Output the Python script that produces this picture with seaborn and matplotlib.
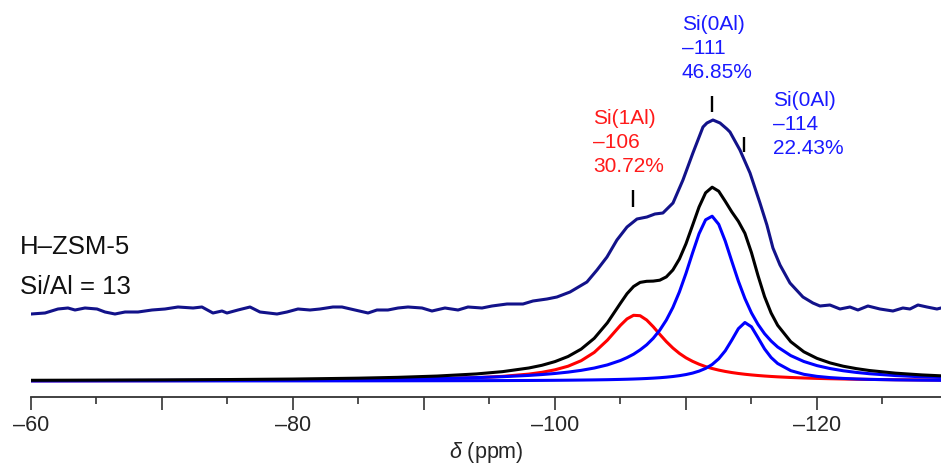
import matplotlib
matplotlib.use("Agg")
import matplotlib.pyplot as plt
from matplotlib.ticker import MultipleLocator, FuncFormatter
import pandas as pd
import seaborn as sns

# ---------------- data ----------------
# chemical shift grid for the fitted curves (ppm)
fit_ppm = [-60, -65, -70, -75, -80, -85, -88, -91, -94, -96, -98, -99, -100, -101,
           -102, -103, -104, -105, -105.5, -106, -106.5, -107, -107.5, -108, -108.5,
           -109, -109.5, -110, -110.5, -111, -111.5, -112, -112.5, -113, -113.5,
           -114, -114.5, -115, -115.5, -116, -116.5, -117, -118, -119, -120, -121,
           -122, -123, -124, -126, -128, -130]

# Si(1Al) component, -106 ppm (red)
si1al_106 = [0.24, 0.30, 0.39, 0.53, 0.74, 1.13, 1.52, 2.16, 3.30, 4.63, 6.89, 8.67, 11.2, 14.8,
             20.3, 28.6, 40.8, 55.7, 62.1, 65.7, 65.3, 61.0, 54.3, 46.7, 39.4,
             33.0, 27.6, 23.2, 19.7, 16.8, 14.4, 12.5, 10.9, 9.57, 8.46,
             7.53, 6.74, 6.07, 5.49, 4.98, 4.54, 4.16, 3.52, 3.01, 2.61, 2.28,
             2.01, 1.79, 1.59, 1.29, 1.07, 0.90]

# Si(0Al) component, -111 ppm (blue)
si0al_111 = [0.41, 0.51, 0.63, 0.82, 1.09, 1.53, 1.93, 2.52, 3.41, 4.30, 5.58, 6.44, 7.53, 8.88,
             10.65, 12.97, 16.1, 20.5, 23.4, 26.8, 31.1, 36.2, 42.7, 50.8, 60.9,
             73.5, 89.1, 107.6, 127.9, 147.3, 161.2, 164.8, 156.7, 139.9, 119.7,
             99.9, 82.5, 68.1, 56.6, 47.3, 40.0, 34.0, 25.4, 19.5, 15.4, 12.45,
             10.25, 8.58, 7.28, 5.43, 4.20, 3.33]

# Si(0Al) component, -114 ppm (blue)
si0al_114 = [0.05, 0.06, 0.08, 0.10, 0.13, 0.17, 0.21, 0.27, 0.35, 0.43, 0.54, 0.61, 0.70, 0.81,
             0.94, 1.10, 1.31, 1.60, 1.77, 1.98, 2.22, 2.51, 2.86, 3.28, 3.82,
             4.49, 5.34, 6.44, 7.89, 9.88, 12.6, 16.5, 22.2, 30.2, 40.9,
             52.3, 58.5, 54.2, 43.3, 32.1, 23.5, 17.5, 10.35, 6.69, 4.64, 3.39,
             2.58, 2.02, 1.63, 1.12, 0.82, 0.62]

# total fitted envelope (black)
fit_total = [0.70, 0.87, 1.10, 1.45, 1.96, 2.83, 3.66, 4.95, 7.06, 9.36, 13.0, 15.7, 19.4, 24.5,
             31.9, 42.7, 58.2, 77.8, 87.3, 94.5, 98.6, 99.7, 99.9, 100.8, 104.1,
             111.0, 122.0, 137.2, 155.5, 174.0, 188.2, 193.8, 189.8, 179.7, 169.1,
             159.7, 147.7, 128.4, 105.4, 84.4, 68.0, 55.7, 39.3, 29.2, 22.65, 18.1,
             14.8, 12.4, 10.5, 7.84, 6.09, 4.85]

# experimental spectrum (navy, shown offset above the fits)
exp_ppm = [-60.0, -61.07, -62.06, -62.82, -63.36, -64.12, -65.04, -65.65, -66.41, -67.18,
           -68.17, -69.24, -70.23, -71.22, -72.37, -73.05, -73.89, -74.58, -74.96, -75.80,
           -76.72, -77.48, -78.78, -79.54, -80.38, -81.30, -82.06, -83.05, -83.74, -84.73,
           -85.73, -86.41, -87.25, -88.02, -88.78, -89.85, -90.61, -91.60, -92.60, -93.36,
           -94.43, -95.19, -96.34, -97.56, -98.32, -99.39, -100.15, -101.15, -102.44, -103.21,
           -103.97, -104.73, -105.50, -106.26, -107.02, -107.63, -108.24, -109.01, -109.77,
           -110.53, -111.30, -111.60, -112.06, -112.60, -113.13, -113.36, -114.12, -114.89,
           -115.65, -116.18, -116.64, -117.18, -117.94, -118.93, -119.69, -120.23, -120.99,
           -121.76, -122.52, -123.13, -123.89, -124.81, -125.80, -126.56, -127.10, -127.71,
           -128.40, -129.16, -129.47]
exp_int = [67, 68, 72, 73, 71, 73, 72, 69, 67, 69,
           69, 71, 72, 74, 73, 74, 68, 70, 68, 71,
           74, 69, 67, 69, 72, 71, 72, 74, 74, 71,
           68, 71, 71, 73, 74, 73, 70, 73, 71, 74,
           73, 75, 77, 77, 80, 82, 84, 89, 99, 111,
           124, 141, 154, 162, 164, 167, 168, 178, 201,
           228, 254, 258, 261, 258, 252, 249, 231, 208,
           178, 156, 133, 116, 98, 84, 78, 75, 76,
           72, 74, 71, 75, 72, 70, 73, 72, 76,
           74, 72, 73]

# annotations
label_lines = [["Si(1Al)", "–106", "30.72%"],
               ["Si(0Al)", "–111", "46.85%"],
               ["Si(0Al)", "–114", "22.43%"]]
label_colors = ["#ff1a1a", "#1a1aff", "#1a1aff"]
label_x = [-102.9, -109.69, -116.64]
label_y = [262, 356, 281]
mark_ppm = [-105.95, -111.98, -114.43]
mark_lo = [174, 269, 229]
mark_hi = [191, 285, 244]
sample_lines = ["H–ZSM-5", "Si/Al = 13"]

# ---------------- plotting ----------------
sns.set_theme(style="white")
plt.rcParams["font.family"] = ["Liberation Sans", "DejaVu Sans"]
plt.rcParams["mathtext.fontset"] = "custom"
plt.rcParams["mathtext.it"] = "Liberation Sans:italic"
plt.rcParams["mathtext.rm"] = "Liberation Sans"

W, H = 941, 465
fig = plt.figure(figsize=(W / 100, H / 100), dpi=100)
ax = fig.add_axes([31 / W, 68 / H, 910 / W, 397 / H])

fits = pd.DataFrame({"ppm": fit_ppm, "red": si1al_106, "b111": si0al_111,
                     "b114": si0al_114, "tot": fit_total})
expdf = pd.DataFrame({"ppm": exp_ppm, "I": exp_int})

lw = 2.2
sns.lineplot(data=fits, x="ppm", y="red", ax=ax, color="#ff0000", lw=lw, sort=False, estimator=None)
sns.lineplot(data=fits, x="ppm", y="b114", ax=ax, color="#0000ff", lw=lw, sort=False, estimator=None)
sns.lineplot(data=fits, x="ppm", y="b111", ax=ax, color="#0000ff", lw=lw, sort=False, estimator=None)
sns.lineplot(data=fits, x="ppm", y="tot", ax=ax, color="#000000", lw=lw, sort=False, estimator=None)
sns.lineplot(data=expdf, x="ppm", y="I", ax=ax, color="#12128a", lw=lw, sort=False, estimator=None)

ax.vlines(mark_ppm, mark_lo, mark_hi, colors="black", lw=1.7)

for lines, col, x0, y0 in zip(label_lines, label_colors, label_x, label_y):
    for k, s in enumerate(lines):
        ax.text(x0, y0 - 24 * k, s, color=col, fontsize=15, ha="left", va="center")

fig.text(20 / W, 1 - 247 / H, sample_lines[0], fontsize=18.5, ha="left", va="center", color="#111111")
fig.text(20 / W, 1 - 287 / H, sample_lines[1], fontsize=18.5, ha="left", va="center", color="#111111")

ax.set_xlim(-60, -129.47)
ax.set_ylim(-16, 381)
ax.set_yticks([])
ax.set_ylabel("")
for s in ["left", "right", "top"]:
    ax.spines[s].set_visible(False)
ax.spines["bottom"].set_color("#333333")
ax.spines["bottom"].set_linewidth(1.3)

ax.xaxis.set_major_locator(MultipleLocator(10))
ax.xaxis.set_minor_locator(MultipleLocator(5))
ax.xaxis.set_major_formatter(FuncFormatter(
    lambda v, p: f"–{abs(int(round(v)))}" if int(round(v)) % 20 == 0 else ""))
ax.tick_params(axis="x", which="major", length=9, width=1.2, color="#333333",
               labelsize=15.5, pad=4, direction="out", bottom=True)
ax.tick_params(axis="x", which="minor", length=5, width=1.2, color="#333333",
               direction="out", bottom=True)
ax.set_xlabel(r"$\delta$ (ppm)", fontsize=15.5, labelpad=3)

fig.savefig("out.png", dpi=100)
